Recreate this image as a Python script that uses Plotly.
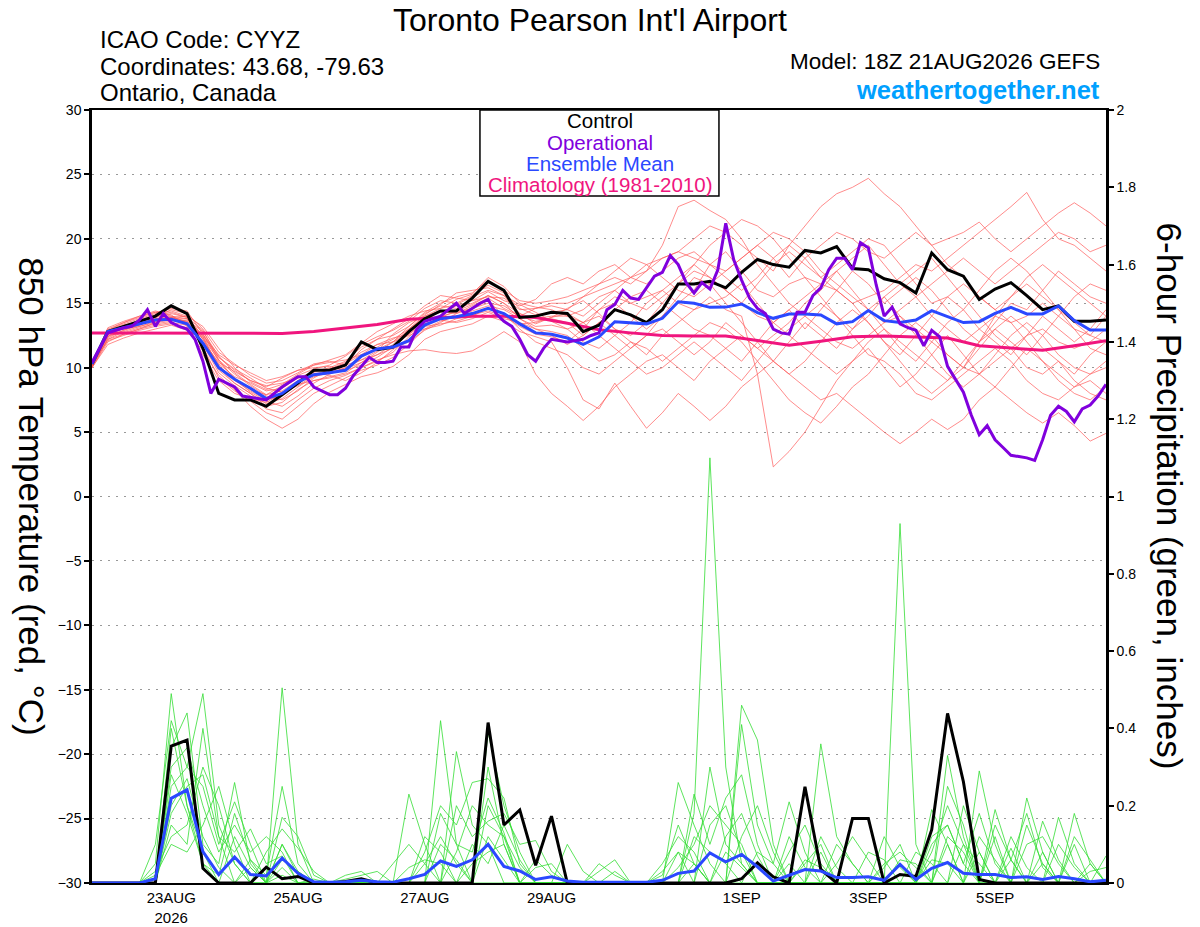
import pandas as pd
import plotly.graph_objects as go

# time axes (GEFS 18Z 21AUG2026 run)
t6 = pd.date_range("2026-08-21 18:00", "2026-09-06 18:00", freq="6h")
t3 = pd.date_range("2026-08-21 18:00", "2026-09-06 18:00", freq="3h")
t12 = pd.date_range("2026-08-21 18:00", "2026-09-06 18:00", freq="12h")

# 850 hPa temperature, deg C (6-hourly)
ctrl_t = [10.3, 12.8, 13.2, 13.6, 14.0, 14.8, 14.2, 11.5, 8.0, 7.5,
          7.5, 7.0, 7.9, 8.8, 9.8, 9.8, 10.2, 12.0, 11.4, 11.6,
          12.8, 13.8, 14.4, 14.4, 15.4, 16.7, 16.0, 13.9, 14.0, 14.3,
          14.2, 12.8, 13.3, 14.5, 14.1, 13.5, 14.5, 16.5, 16.5, 16.7,
          16.2, 17.4, 18.4, 18.0, 17.8, 19.1, 18.9, 19.4, 17.7, 17.6,
          16.9, 16.6, 15.8, 18.9, 17.6, 17.1, 15.3, 16.1, 16.6, 15.6,
          14.5, 14.8, 13.6, 13.6, 13.7]
mean_t = [10.3, 12.8, 13.1, 13.4, 13.7, 13.75, 13.4, 11.9, 10.0, 9.1,
          8.4, 7.6, 8.0, 8.9, 9.45, 9.6, 9.8, 10.9, 11.45, 11.6,
          12.1, 13.3, 13.8, 13.95, 14.2, 14.6, 14.2, 13.4, 12.7, 12.6,
          12.3, 11.8, 12.4, 13.57, 13.5, 13.4, 13.83, 15.12, 15.0, 14.68,
          14.7, 14.94, 14.27, 13.83, 14.17, 14.17, 14.09, 13.4, 13.57, 14.43,
          13.65, 13.5, 13.7, 14.43, 13.96, 13.5, 13.57, 14.22, 14.68, 14.17,
          14.17, 14.79, 13.65, 12.92, 12.92]
# operational run is 3-hourly
oper_t = [10.4, 11.6, 12.7, 12.9, 13.1, 13.2, 13.7, 14.5, 13.2, 14.2,
          13.5, 13.2, 13.0, 12.2, 10.5, 8.0, 9.1, 8.8, 8.5, 7.8,
          7.7, 7.6, 7.5, 8.0, 8.5, 8.9, 9.3, 9.3, 8.5, 8.2,
          7.9, 7.9, 8.4, 9.4, 10.1, 10.8, 10.4, 10.4, 10.5, 11.6,
          11.6, 13.0, 13.6, 13.8, 14.0, 14.5, 15.0, 14.2, 14.6, 15.0,
          15.3, 14.2, 13.6, 13.2, 12.2, 11.0, 10.5, 11.5, 12.2, 12.1,
          12.0, 12.1, 12.2, 12.5, 12.7, 14.5, 14.9, 16.0, 15.4, 15.3,
          16.2, 17.1, 17.4, 18.7, 18.0, 16.6, 15.8, 16.6, 16.1, 17.6,
          21.2, 18.4, 16.8, 15.4, 14.6, 14.2, 13.0, 12.7, 12.6, 14.3,
          14.3, 15.6, 16.2, 17.6, 18.5, 18.5, 17.6, 19.7, 19.3, 16.4,
          14.0, 14.7, 13.4, 13.1, 12.9, 11.7, 12.9, 12.4, 10.1, 9.1,
          8.1, 6.3, 4.8, 5.5, 4.4, 3.8, 3.2, 3.1, 3.0, 2.8,
          4.4, 6.3, 7.0, 6.6, 5.8, 6.8, 7.1, 7.8, 8.7]
# climatology, 12-hourly
clim_t = [12.7, 12.7, 12.7, 12.7, 12.7, 12.68, 12.66, 12.8, 13.05, 13.35,
          13.75, 13.9, 14.0, 14.0, 13.9, 13.45, 12.95, 12.7, 12.5, 12.45,
          12.45, 12.1, 11.75, 12.05, 12.4, 12.45, 12.4, 12.3, 11.7, 11.5,
          11.35, 11.7, 12.1]

# ensemble members (red)
t_m01 = [10.1, 12.9, 13.4, 13.8, 14.2, 14.6, 14.4, 12.6, 10.5, 9.2, 8.3, 7.9, 8.6, 9.4, 9.9, 10.2, 10.9, 11.8, 12.4, 12.9, 13.6, 14.6, 15.2, 15.0, 15.6, 16.4, 15.8, 14.6, 14.1, 14.3,
         14.5, 15.5, 16.5, 17.0, 16.5, 17.5, 18.5, 19.0, 20.0, 21.0, 20.5, 19.5, 18.5, 17.5, 19.5, 21.0, 22.5, 23.5, 24.0, 24.7, 23.5, 22.5, 21.0, 19.5, 18.0, 17.0, 15.5, 14.5, 13.5, 14.0, 15.0, 14.0, 13.0, 12.5, 12.0]
t_m02 = [10.0, 12.2, 12.8, 13.2, 13.5, 13.9, 13.6, 12.0, 9.8, 8.8, 8.0, 7.2, 7.6, 8.5, 9.3, 9.6, 10.0, 10.8, 11.6, 12.2, 13.0, 13.9, 14.3, 14.8, 15.2, 15.9, 15.2, 14.8, 15.3, 16.5,
         17.0, 16.5, 17.5, 18.0, 17.0, 17.5, 19.5, 22.5, 23.0, 22.2, 21.5, 20.0, 18.0, 16.5, 15.0, 14.0, 13.0, 12.0, 11.5, 12.5, 13.5, 14.0, 13.0, 12.0, 11.0, 10.0, 9.5, 10.5, 11.5, 12.5, 13.0, 12.0, 11.5, 12.0, 13.0]
t_m03 = [10.3, 13.1, 13.6, 14.0, 14.4, 14.1, 13.2, 11.0, 9.0, 8.0, 7.6, 7.3, 8.0, 9.0, 9.7, 9.9, 10.4, 11.2, 11.8, 12.0, 12.9, 14.0, 14.6, 15.3, 15.7, 17.0, 16.3, 15.0, 14.7, 14.5,
         14.0, 13.5, 14.5, 15.5, 15.0, 15.5, 16.0, 15.0, 14.5, 15.5, 14.5, 14.0, 9.5, 2.3, 3.5, 5.0, 7.0, 9.0, 10.5, 11.5, 10.0, 8.5, 9.5, 11.0, 12.5, 11.0, 9.5, 8.5, 10.0, 11.5, 10.5, 9.0, 8.0, 7.5, 8.5]
t_m04 = [10.0, 11.8, 12.3, 12.7, 13.0, 13.3, 12.9, 11.3, 9.4, 8.3, 7.0, 6.0, 5.3, 6.0, 7.2, 8.1, 8.7, 9.3, 9.6, 10.1, 11.0, 12.2, 12.8, 13.1, 13.4, 14.0, 13.6, 12.8, 12.4, 12.0,
         10.0, 7.5, 6.8, 8.8, 7.0, 5.3, 6.5, 8.0, 7.0, 5.9, 7.0, 8.5, 9.5, 10.5, 9.5, 8.5, 7.5, 8.0, 7.0, 6.0, 5.0, 4.1, 5.0, 6.0, 5.2, 6.0, 7.5, 8.5, 7.5, 6.5, 5.7, 6.5, 5.5, 4.3, 4.9]
t_m05 = [10.2, 12.6, 13.0, 13.2, 13.6, 13.8, 13.8, 12.2, 10.2, 9.0, 8.2, 7.5, 7.8, 8.7, 9.0, 9.2, 9.5, 10.0, 10.6, 11.0, 11.3, 11.4, 11.2, 11.1, 11.3, 12.0, 12.8, 12.0, 9.5, 8.0,
         7.0, 5.9, 7.0, 8.5, 9.5, 10.5, 11.0, 10.0, 9.0, 10.5, 11.5, 12.5, 11.5, 10.5, 12.0, 13.5, 12.5, 11.5, 13.0, 14.5, 15.5, 14.0, 12.5, 11.0, 9.5, 8.5, 9.5, 11.0, 12.5, 13.5, 12.5, 11.0, 10.0, 9.5, 10.5]
t_m06 = [10.4, 13.0, 13.5, 13.9, 14.3, 14.0, 13.8, 12.4, 10.8, 9.8, 9.0, 8.5, 9.2, 9.8, 10.2, 10.4, 10.6, 11.0, 11.4, 12.0, 13.2, 14.2, 14.8, 14.6, 15.0, 15.6, 15.0, 14.2, 13.8, 14.0,
         14.0, 14.5, 15.5, 16.0, 15.0, 14.5, 15.5, 16.5, 17.5, 17.0, 16.0, 15.0, 14.0, 13.5, 14.5, 15.5, 16.5, 16.0, 15.0, 15.5, 16.0, 17.0, 18.0, 17.5, 18.5, 19.5, 20.5, 21.5, 22.5, 23.6, 21.5, 20.0, 19.5, 18.5, 17.5]
t_m07 = [10.1, 12.4, 13.3, 13.6, 13.9, 14.5, 14.2, 13.0, 11.2, 10.3, 9.4, 8.8, 9.0, 9.6, 10.3, 10.5, 10.2, 10.6, 11.3, 12.6, 13.5, 14.0, 14.4, 14.2, 14.8, 15.4, 14.6, 14.0, 14.6, 15.0,
         15.0, 15.5, 16.0, 16.5, 17.0, 18.0, 18.5, 19.0, 18.5, 18.0, 17.5, 18.5, 19.5, 18.5, 17.0, 18.5, 19.5, 20.5, 20.0, 19.0, 18.5, 19.5, 20.5, 19.5, 20.0, 20.5, 21.3, 20.0, 19.0, 20.0, 21.0, 22.0, 22.8, 22.0, 21.0]
t_m08 = [10.0, 12.0, 12.6, 13.0, 13.3, 13.5, 13.3, 11.8, 9.6, 8.6, 7.8, 6.8, 6.5, 7.5, 8.4, 9.0, 9.4, 10.0, 10.5, 11.2, 12.4, 13.4, 13.7, 13.5, 13.8, 14.3, 13.8, 13.5, 13.0, 12.8,
         12.5, 11.5, 10.5, 11.0, 12.0, 11.5, 10.5, 11.5, 12.5, 13.5, 13.0, 12.0, 10.5, 9.0, 7.5, 6.5, 5.7, 7.0, 8.5, 9.5, 11.0, 12.5, 13.5, 12.5, 11.0, 10.0, 11.5, 13.0, 14.0, 13.0, 11.5, 10.5, 9.5, 11.0, 12.0]
t_m09 = [10.3, 12.7, 13.2, 13.7, 14.1, 14.3, 13.9, 12.2, 10.3, 9.3, 8.8, 8.2, 8.4, 9.2, 9.7, 10.0, 10.5, 11.6, 12.2, 12.5, 13.2, 14.3, 15.0, 15.5, 15.8, 16.8, 16.0, 15.2, 15.0, 15.2,
         15.5, 16.0, 16.5, 17.5, 18.5, 18.0, 17.0, 16.0, 15.5, 16.5, 17.5, 18.5, 19.5, 20.5, 20.0, 19.0, 17.5, 16.5, 15.5, 14.5, 13.5, 14.5, 15.5, 16.5, 17.5, 18.5, 17.5, 16.5, 17.5, 18.5, 19.5, 20.5, 20.0, 19.0, 19.5]
t_m10 = [10.1, 12.3, 12.9, 13.3, 13.8, 14.0, 13.5, 11.6, 9.2, 8.2, 7.4, 6.5, 6.0, 7.0, 8.0, 8.6, 9.2, 9.8, 10.2, 10.8, 11.8, 13.0, 13.6, 14.0, 14.4, 14.8, 14.5, 13.8, 13.2, 13.3,
         13.0, 13.5, 14.0, 13.0, 12.0, 11.0, 12.5, 13.5, 14.5, 15.0, 15.5, 16.5, 15.0, 13.5, 12.5, 11.5, 10.5, 9.5, 10.5, 12.0, 13.0, 12.0, 11.0, 10.0, 9.0, 10.0, 12.0, 14.0, 15.5, 16.5, 15.5, 14.5, 13.5, 12.5, 14.0]
t_m11 = [10.2, 12.5, 12.7, 13.1, 13.4, 13.6, 13.7, 12.8, 10.9, 9.6, 8.7, 7.9, 8.2, 9.0, 9.6, 9.4, 9.0, 9.6, 10.4, 11.4, 12.2, 13.2, 13.4, 13.6, 14.0, 14.6, 14.2, 13.0, 12.0, 11.5,
         11.0, 10.0, 9.5, 10.5, 11.5, 12.5, 13.0, 12.0, 11.0, 12.0, 13.5, 12.5, 11.5, 12.5, 13.5, 15.0, 16.0, 17.5, 18.5, 19.5, 18.0, 16.5, 17.5, 18.5, 17.0, 15.5, 14.0, 12.5, 11.5, 10.0, 9.5, 10.5, 9.0, 8.0, 7.5]
t_m12 = [10.0, 12.8, 13.3, 13.5, 13.7, 13.9, 14.0, 12.4, 10.0, 8.8, 8.0, 7.0, 7.3, 8.3, 9.0, 9.3, 9.6, 10.4, 11.0, 11.5, 12.0, 12.9, 13.5, 14.2, 14.6, 15.0, 14.8, 14.0, 13.6, 13.8,
         13.5, 12.5, 13.5, 14.5, 15.5, 16.0, 15.0, 14.0, 13.0, 12.5, 11.5, 10.5, 12.0, 13.5, 14.5, 13.0, 14.5, 16.0, 17.5, 16.5, 15.0, 16.0, 17.0, 16.0, 14.5, 13.0, 12.0, 13.5, 15.0, 14.5, 16.0, 17.5, 16.5, 15.5, 15.0]
t_m13 = [10.3, 12.1, 12.5, 12.9, 13.2, 13.4, 13.1, 12.0, 10.4, 9.7, 9.0, 8.6, 8.8, 9.2, 9.5, 9.8, 10.3, 11.0, 11.8, 12.3, 12.6, 13.6, 14.0, 14.3, 14.6, 15.2, 14.0, 13.2, 12.6, 12.4,
         12.0, 13.0, 14.5, 15.0, 14.0, 13.0, 14.0, 15.0, 16.0, 18.0, 19.0, 17.5, 16.0, 15.5, 16.5, 17.0, 15.5, 14.0, 12.5, 11.0, 10.5, 9.5, 8.0, 7.5, 8.5, 9.5, 10.5, 11.5, 10.5, 9.0, 8.0, 7.5, 8.5, 9.5, 10.0]
t_m14 = [10.2, 12.6, 13.1, 13.5, 13.8, 13.9, 13.5, 12.3, 10.6, 9.5, 8.6, 7.8, 7.5, 8.2, 9.2, 9.9, 10.2, 11.4, 12.2, 13.0, 13.8, 14.8, 15.6, 15.4, 15.2, 15.5, 15.4, 14.5, 14.6, 14.8,
         14.5, 14.0, 15.0, 16.0, 17.0, 16.5, 17.5, 18.5, 19.0, 18.0, 17.0, 16.0, 17.0, 18.5, 19.5, 18.5, 17.0, 18.0, 19.0, 20.0, 19.5, 18.0, 16.5, 15.0, 15.5, 16.5, 15.5, 14.5, 15.5, 17.0, 18.0, 17.0, 16.0, 15.0, 14.0]
t_m15 = [10.2, 12.4, 12.9, 13.4, 13.6, 13.8, 13.4, 12.5, 11.0, 10.2, 9.6, 9.0, 9.3, 9.8, 10.0, 10.1, 9.8, 10.2, 10.8, 11.6, 12.6, 13.4, 13.9, 14.4, 14.9, 15.6, 15.0, 13.8, 13.0, 12.5,
         11.8, 12.5, 13.5, 12.5, 11.5, 12.5, 14.0, 15.5, 17.0, 16.5, 15.0, 13.5, 12.0, 10.5, 9.5, 10.5, 12.0, 13.5, 14.5, 13.5, 12.0, 10.5, 9.0, 8.0, 9.0, 10.5, 12.0, 13.0, 12.0, 11.0, 12.5, 14.0, 15.5, 16.5, 16.0]
t_m16 = [10.0, 12.7, 13.0, 13.3, 13.9, 14.2, 13.9, 12.9, 10.6, 9.1, 8.1, 7.4, 7.0, 7.8, 8.8, 9.5, 10.0, 10.6, 11.0, 11.8, 13.0, 14.1, 14.9, 15.8, 16.0, 16.2, 15.6, 14.2, 13.4, 13.9,
         14.6, 15.2, 14.2, 13.0, 12.5, 13.5, 15.0, 16.5, 18.0, 19.5, 20.5, 21.5, 21.0, 20.0, 18.5, 17.0, 16.5, 17.5, 16.0, 14.5, 13.0, 11.5, 10.5, 12.0, 13.5, 14.5, 16.0, 17.5, 18.5, 17.5, 16.0, 14.5, 13.0, 11.5, 11.0]
t_m17 = [10.1, 12.2, 12.6, 13.0, 13.5, 13.7, 13.6, 12.6, 10.8, 9.9, 9.2, 8.4, 8.1, 8.6, 9.4, 9.7, 9.9, 10.4, 11.2, 12.0, 12.5, 13.0, 13.3, 13.8, 14.1, 14.4, 14.0, 13.4, 13.5, 13.9,
         14.2, 13.5, 12.5, 11.5, 10.5, 9.5, 10.0, 11.0, 12.0, 11.0, 10.0, 9.0, 10.5, 12.0, 13.0, 14.0, 15.0, 14.0, 13.0, 14.0, 15.5, 16.5, 15.5, 14.0, 13.0, 12.0, 13.0, 14.0, 13.5, 12.0, 10.5, 9.5, 8.5, 9.0, 8.0]
t_m18 = [10.4, 12.9, 13.5, 14.0, 14.3, 14.4, 14.0, 13.2, 11.5, 10.0, 8.9, 8.3, 8.7, 9.5, 10.2, 10.6, 11.0, 11.9, 12.8, 13.4, 14.0, 14.4, 14.6, 14.9, 15.5, 16.0, 15.6, 14.9, 14.3, 13.6,
         13.0, 12.0, 11.5, 12.5, 13.5, 15.0, 16.0, 17.0, 18.0, 17.0, 16.0, 15.0, 16.5, 18.0, 19.0, 18.0, 17.0, 16.0, 15.0, 13.5, 12.0, 11.0, 12.5, 14.0, 15.5, 14.5, 13.0, 12.0, 11.0, 12.5, 14.0, 13.0, 12.0, 13.0, 14.5]
temp_members = [t_m01, t_m02, t_m03, t_m04, t_m05, t_m06, t_m07, t_m08, t_m09,
                t_m10, t_m11, t_m12, t_m13, t_m14, t_m15, t_m16, t_m17, t_m18]

# 6-hour precipitation, inches
ctrl_p = [0, 0, 0, 0, 0, .354, .37, .038, 0, 0,
          0, .041, .011, .017, 0, 0, .004, .011, 0, 0,
          0, 0, 0, 0, 0, .415, .15, .189, .046, .173,
          0, 0, 0, 0, 0, 0, 0, 0, 0, 0,
          0, .011, .052, .016, 0, .249, .035, 0, .167, .167,
          0, .022, .017, .138, .439, .262, .009, 0, 0, 0,
          0, 0, 0, 0, 0]
mean_p = [0, 0, 0, 0, .011, .219, .241, .081, .022, .067,
          .022, .018, .064, .025, .003, .002, .003, .007, .003, .002,
          .011, .022, .057, .043, .06, .1, .043, .031, .009, .016,
          .005, .002, .002, .002, .002, .002, .007, .025, .031, .078,
          .055, .074, .042, .005, .02, .035, .031, .014, .014, .016,
          .007, .048, .009, .038, .053, .025, .022, .022, .014, .016,
          .009, .017, .011, .003, .007]

p_m01 = [0, 0, 0, 0, .05, .49, .2, .05, 0, 0, 0, 0, .1, .03, 0, 0, 0, 0, 0, 0, 0, 0, .42, .1, 0, 0, 0, 0, 0, 0,
         0, 0, 0, 0, 0, 0, 0, 0, .18, 1.1, .3, .05, 0, 0, 0, 0, 0, 0, 0, 0, 0, .05, 0, 0, 0, .1, .05, 0, 0, 0, 0, 0, 0, 0, 0]
p_m02 = [0, 0, 0, 0, 0, .35, .44, .1, .05, .26, .05, 0, 0, 0, 0, 0, 0, 0, 0, 0, .23, .1, 0, 0, 0, .39, .2, .08, 0, 0,
         0, 0, 0, 0, 0, 0, 0, 0, 0, 0, 0, .46, .37, .1, 0, 0, .08, 0, 0, 0, 0, 0, 0, 0, .33, .12, 0, 0, 0, 0, .05, 0, 0, 0, 0]
p_m03 = [0, 0, 0, 0, 0, .25, .3, .49, .15, .05, 0, 0, .505, .1, 0, 0, 0, 0, 0, 0, 0, 0, 0, .34, .15, .1, 0, 0, 0, 0,
         0, 0, .03, .06, 0, 0, 0, .26, .15, .05, 0, 0, 0, 0, 0, 0, 0, 0, 0, 0, 0, .93, .1, 0, 0, 0, .29, .1, 0, 0, 0, 0, .18, .05, 0]
p_m04 = [0, 0, 0, 0, .1, .42, .3, .25, .1, .21, .1, 0, .17, .12, .02, 0, 0, 0, 0, 0, 0, .08, .2, .15, .26, .27, .22, .05, 0, 0,
         0, 0, 0, 0, 0, 0, 0, 0, .23, .1, .22, .28, .1, 0, 0, 0, .36, .12, .05, 0, 0, 0, 0, .19, .1, 0, 0, 0, 0, .22, .08, 0, 0, 0, 0]
p_m05 = [0, 0, 0, 0, 0, .3, .35, .2, .08, .15, .08, .12, .08, 0, 0, 0, .02, .03, 0, 0, 0, 0, .18, .1, .08, .22, .13, 0, 0, 0,
         0, 0, 0, 0, 0, 0, .05, .12, .08, 0, 0, .41, .15, .05, .21, .08, 0, 0, 0, 0, .12, .04, 0, 0, .25, .15, 0, .19, .06, 0, 0, .17, .05, 0, 0]
p_m06 = [0, 0, 0, 0, 0, .18, .25, .28, .12, .08, .14, .05, .07, 0, 0, 0, 0, 0, 0, .05, .1, .05, 0, .2, .12, .16, .18, .1, .11, .03,
         0, 0, 0, 0, 0, 0, 0, .04, .1, .2, .15, .1, 0, 0, .08, .15, .05, 0, 0, .08, .06, 0, 0, .12, .15, .05, .18, .05, 0, .1, .12, .05, 0, 0, .07]
p_m07 = [0, 0, 0, 0, .03, .12, .15, .3, .2, .05, 0, 0, .06, .03, 0, 0, 0, 0, 0, 0, 0, .12, .08, 0, .1, .05, .15, .06, 0, 0,
         .1, .03, 0, 0, 0, 0, 0, 0, .05, 0, .12, .18, .07, 0, 0, 0, 0, .05, .12, .06, 0, 0, .08, .05, 0, .2, .08, 0, .12, .04, 0, 0, .12, .06, 0]
p_m08 = [0, 0, 0, 0, 0, .4, .2, .08, 0, .12, .04, 0, .02, 0, .01, 0, 0, 0, 0, 0, 0, 0, .1, .06, 0, .3, .1, 0, 0, 0,
         0, 0, .05, .02, 0, 0, .02, .15, .05, 0, .08, .04, 0, 0, .12, .04, 0, 0, 0, 0, 0, 0, 0, .08, .2, .1, 0, .12, 0, 0, .16, .06, 0, 0, 0]
p_m09 = [0, 0, 0, 0, 0, .2, .27, .12, .04, 0, .06, .02, .25, .05, 0, 0, .01, .02, .03, 0, 0, 0, 0, 0, .05, .08, .1, 0, .04, .05,
         0, 0, 0, 0, 0, 0, 0, 0, .12, .08, .05, 0, .08, .05, 0, .05, .1, 0, 0, 0, .05, .08, .04, 0, .1, 0, .12, .06, 0, .15, .05, 0, 0, .03, .04]
p_m10 = [0, 0, 0, 0, .02, .1, .08, .15, .25, .1, 0, .08, .14, .09, .03, 0, 0, 0, 0, 0, 0, .05, .12, .05, 0, .12, .06, 0, .06, .02,
         0, 0, 0, 0, 0, 0, .03, .08, 0, .3, .1, .05, 0, 0, 0, .06, .04, 0, 0, 0, .04, .1, 0, .06, .05, 0, .08, 0, .09, 0, 0, .1, .04, 0, 0]
p_m11 = [0, 0, 0, 0, 0, .15, .1, .4, .12, 0, .04, 0, .04, 0, 0, 0, 0, 0, 0, 0, 0, 0, 0, .08, .2, .15, .12, 0, 0, 0,
         0, 0, 0, 0, 0, 0, 0, .08, .05, 0, 0, .12, .2, .08, 0, 0, 0, .1, .05, 0, 0, 0, 0, .1, .15, .05, 0, 0, .06, .18, .04, 0, 0, .05, 0]
p_m12 = [0, 0, 0, 0, 0, .28, .18, .05, .02, .18, .06, 0, .1, .02, 0, 0, 0, 0, 0, 0, .04, .06, .05, 0, 0, .2, .12, .04, 0, 0,
         0, 0, 0, .03, 0, 0, 0, 0, 0, .15, .2, .08, 0, 0, .05, 0, .12, .04, 0, 0, 0, .06, .05, 0, .12, .08, 0, .15, .06, 0, .08, 0, .1, 0, 0]
precip_members = [p_m01, p_m02, p_m03, p_m04, p_m05, p_m06,
                  p_m07, p_m08, p_m09, p_m10, p_m11, p_m12]

date_ticks = ["2026-08-23", "2026-08-25", "2026-08-27", "2026-08-29",
              "2026-09-01", "2026-09-03", "2026-09-05"]
date_labels = ["23AUG<br>2026", "25AUG", "27AUG", "29AUG", "1SEP", "3SEP", "5SEP"]
temp_ticks = list(range(-30, 31, 5))
precip_ticks = [0, 0.2, 0.4, 0.6, 0.8, 1, 1.2, 1.4, 1.6, 1.8, 2]
precip_labels = ["0", "0.2", "0.4", "0.6", "0.8", "1", "1.2", "1.4", "1.6", "1.8", "2"]

RED = "#ff5a5a"
GREEN = "#33dd33"
PURPLE = "#8000dd"
BLUE = "#2a48ff"
PINK = "#f0157e"

fig = go.Figure()

for m in temp_members:
    fig.add_trace(go.Scatter(x=t6, y=m, mode="lines",
                             line=dict(color=RED, width=0.7), hoverinfo="skip"))
fig.add_trace(go.Scatter(x=t12, y=clim_t, mode="lines", name="Climatology",
                         line=dict(color=PINK, width=3)))
fig.add_trace(go.Scatter(x=t6, y=ctrl_t, mode="lines", name="Control",
                         line=dict(color="black", width=3)))
fig.add_trace(go.Scatter(x=t6, y=mean_t, mode="lines", name="Ensemble Mean",
                         line=dict(color=BLUE, width=3)))
fig.add_trace(go.Scatter(x=t3, y=oper_t, mode="lines", name="Operational",
                         line=dict(color=PURPLE, width=3)))

for m in precip_members:
    fig.add_trace(go.Scatter(x=t6, y=m, mode="lines", yaxis="y2",
                             line=dict(color=GREEN, width=0.8), hoverinfo="skip"))
fig.add_trace(go.Scatter(x=t6, y=ctrl_p, mode="lines", yaxis="y2",
                         line=dict(color="black", width=3)))
fig.add_trace(go.Scatter(x=t6, y=mean_p, mode="lines", yaxis="y2",
                         line=dict(color=BLUE, width=3)))

# legend box
fig.add_shape(type="rect", xref="paper", yref="paper",
              x0=0.3826, x1=0.6183, y0=0.8888, y1=1.0,
              line=dict(color="black", width=1.5), fillcolor="white", layer="above")


def note(txt, x, y, size, color="black", xa="center", ya="middle", angle=0):
    return dict(text=txt, x=x, y=y, xref="paper", yref="paper", xanchor=xa,
                yanchor=ya, textangle=angle, showarrow=False,
                font=dict(size=size, color=color))


ann = []
leg = [("Control", "black", 0.9858), ("Operational", PURPLE, 0.9586),
       ("Ensemble Mean", BLUE, 0.9314), ("Climatology (1981-2010)", PINK, 0.9030)]
for txt, col, yy in leg:
    ann.append(note(txt, 0.501, yy, 20.5, col))

# title box sits against the top edge of the page
ann.append(note("Toronto Pearson Int'l Airport", 0.491, 1.1423, 32, ya="top"))
for txt, yy in [("ICAO Code: CYYZ", 1.0906), ("Coordinates: 43.68, -79.63", 1.0569),
                ("Ontario, Canada", 1.022)]:
    ann.append(note(txt, 0.0059, yy, 24, xa="left"))
ann.append(note("Model: 18Z 21AUG2026 GEFS", 0.996, 1.0621, 22.5, xa="right"))
ann.append(note("<b>weathertogether.net</b>", 0.996, 1.0259, 25.5, "#00a0ff", xa="right"))

# axis titles read top-to-bottom
ann.append(note("850 hPa Temperature (red, °C)", -0.060, 0.5, 35, angle=90))
ann.append(note("6-hour Precipitation (green, inches)", 1.063, 0.5, 35, angle=90))

fig.update_layout(
    width=1200, height=927,
    margin=dict(l=92, r=94, t=110, b=44, autoexpand=False),
    plot_bgcolor="white", paper_bgcolor="white",
    showlegend=False,
    font=dict(family="Liberation Sans, Arial, sans-serif", color="black"),
    annotations=ann,
    xaxis=dict(type="date", range=[t6[0], t6[-1]], automargin=False,
               tickvals=date_ticks, ticktext=date_labels,
               tickfont=dict(size=15), showgrid=False, zeroline=False,
               showline=True, linecolor="black", linewidth=2, mirror=True,
               ticks=""),
    yaxis=dict(range=[-30, 30], tickvals=temp_ticks, tickfont=dict(size=14), automargin=False,
               showgrid=True, gridcolor="#999999", griddash="2px,6px", gridwidth=1,
               zeroline=False, showline=True, linecolor="black", linewidth=2.5,
               ticks="outside", ticklen=5, tickcolor="black", tickwidth=1.5),
    yaxis2=dict(range=[0, 2], overlaying="y", side="right", automargin=False,
                tickvals=precip_ticks, ticktext=precip_labels, tickfont=dict(size=14),
                showgrid=False, zeroline=False, showline=True, linecolor="black",
                linewidth=2.5, ticks="outside", ticklen=5, tickcolor="black", tickwidth=1.5),
)

# drop the default 8px page margin so the figure starts at the window corner
fig.write_html("out.html", config={"displayModeBar": False},
               post_script="document.body.style.margin='0px';")
